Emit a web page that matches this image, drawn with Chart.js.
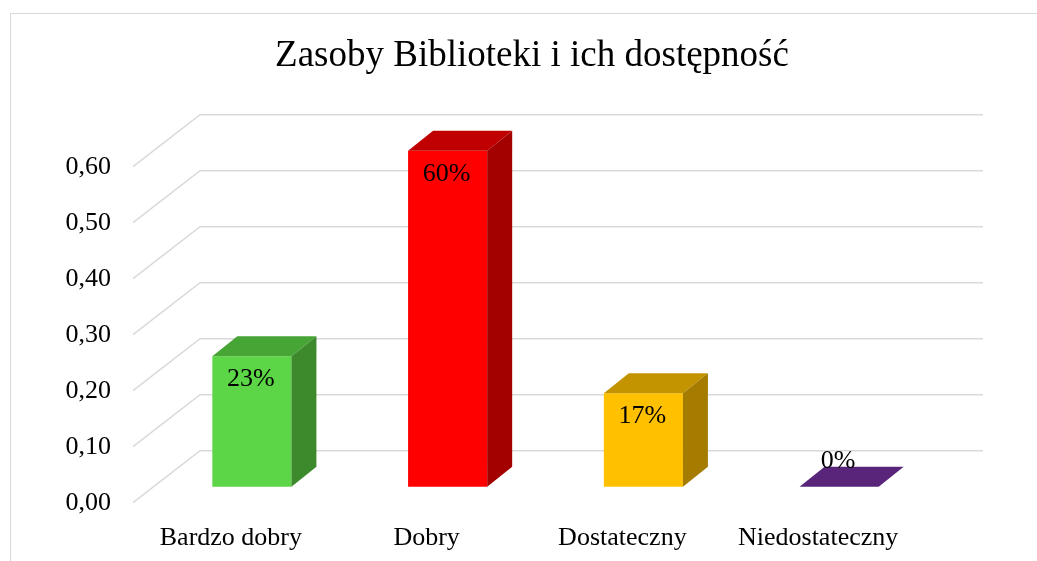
<!DOCTYPE html>
<html lang="pl">
<head>
    <meta charset="UTF-8">
    <title>Zasoby Biblioteki i ich dostępność</title>
    <script src="https://cdn.jsdelivr.net/npm/chart.js"></script>
    <style>
        html, body { margin: 0; padding: 0; background: #fff; overflow: hidden; }
        /* ramka wykresu - prawa i dolna krawędź są poza oknem */
        #wrap {
            position: absolute; left: 10px; top: 13px;
            width: 1042px; height: 547px;
            border-left: 1px solid #d9d9d9;
            border-top: 1px solid #d9d9d9;
        }
        canvas { display: block; }
    </style>
</head>
<body>
<div id="wrap"><canvas id="chart" width="1042" height="547"></canvas></div>
<script>
    // dane
    var categories = ['Bardzo dobry', 'Dobry', 'Dostateczny', 'Niedostateczny'];
    var values = [0.233, 0.60, 0.167, 0];
    var valueLabels = ['23%', '60%', '17%', '0%'];
    var yTicks = [0, 0.1, 0.2, 0.3, 0.4, 0.5, 0.6];

    // kolory ścian słupków
    var frontColors = ['#5CD646', '#FF0000', '#FFC000', '#7030A0'];
    var topColors = ['#47A535', '#C00000', '#C49300', '#58257A'];
    var sideColors = ['#3C8A2C', '#A30000', '#A67C00', '#4A1F66'];

    // efekt 3D: głębokość ścian i przesunięcie słupków
    var wall = { dx: 67, dy: -52 };
    var shift = { dx: 21, dy: -16 };
    var depth = { dx: 25, dy: -20 };

    Chart.defaults.font.family = '"Liberation Serif", "Times New Roman", serif';
    Chart.defaults.color = '#000';

    // siatka w perspektywie
    var gridPlugin = {
        id: 'grid3d',
        beforeDatasetsDraw: function (chart) {
            var ctx = chart.ctx, y = chart.scales.y, a = chart.chartArea;
            ctx.save();
            ctx.strokeStyle = '#d9d9d9';
            ctx.lineWidth = 1.5;
            y.ticks.forEach(function (t) {
                var py = y.getPixelForValue(t.value);
                ctx.beginPath();
                ctx.moveTo(a.left, py);
                ctx.lineTo(a.left + wall.dx, py + wall.dy);
                ctx.lineTo(a.right + wall.dx, py + wall.dy);
                ctx.stroke();
            });
            ctx.restore();
            // przód słupka rysuje Chart.js, tylko przesunięty w głąb
            ctx.save();
            ctx.translate(shift.dx, shift.dy);
        },
        afterDatasetsDraw: function (chart) {
            var ctx = chart.ctx;
            ctx.restore();
            var meta = chart.getDatasetMeta(0);
            ctx.save();
            meta.data.forEach(function (bar, i) {
                var x1 = bar.x - bar.width / 2 + shift.dx;
                var x2 = bar.x + bar.width / 2 + shift.dx;
                var top = bar.y + shift.dy;
                var base = bar.base + shift.dy;
                // góra
                ctx.fillStyle = topColors[i];
                ctx.beginPath();
                ctx.moveTo(x1, top);
                ctx.lineTo(x1 + depth.dx, top + depth.dy);
                ctx.lineTo(x2 + depth.dx, top + depth.dy);
                ctx.lineTo(x2, top);
                ctx.closePath();
                ctx.fill();
                // bok
                if (base - top > 0.5) {
                    ctx.fillStyle = sideColors[i];
                    ctx.beginPath();
                    ctx.moveTo(x2, top);
                    ctx.lineTo(x2 + depth.dx, top + depth.dy);
                    ctx.lineTo(x2 + depth.dx, base + depth.dy);
                    ctx.lineTo(x2, base);
                    ctx.closePath();
                    ctx.fill();
                }
                // etykieta danych
                ctx.fillStyle = '#000';
                ctx.font = '26px "Liberation Serif", "Times New Roman", serif';
                ctx.textAlign = 'center';
                ctx.textBaseline = 'middle';
                var ly = values[i] > 0 ? top + 23 : top - 26;
                ctx.fillText(valueLabels[i], (x1 + x2) / 2 - 1, ly);
            });
            ctx.restore();
        }
    };

    new Chart(document.getElementById('chart'), {
        type: 'bar',
        data: {
            labels: categories,
            datasets: [{
                data: values,
                backgroundColor: frontColors,
                borderWidth: 0,
                categoryPercentage: 1,
                barPercentage: 0.404,
                clip: false
            }]
        },
        options: {
            responsive: false,
            animation: false,
            layout: { padding: 0 },
            plugins: {
                legend: { display: false },
                tooltip: { enabled: false },
                title: {
                    display: true,
                    text: 'Zasoby Biblioteki i ich dostępność',
                    font: { size: 37, weight: 'normal' },
                    color: '#000',
                    padding: { top: 20, bottom: 88.3 }
                }
            },
            scales: {
                x: {
                    grid: { display: false, drawTicks: false },
                    border: { display: false },
                    ticks: { font: { size: 26 }, padding: 20, maxRotation: 0, autoSkip: false },
                    afterFit: function (s) { s.height = 58.3; }
                },
                y: {
                    min: 0,
                    max: 0.6,
                    grid: { display: false, drawTicks: false },
                    border: { display: false },
                    afterBuildTicks: function (s) {
                        s.ticks = yTicks.map(function (v) { return { value: v }; });
                    },
                    ticks: {
                        font: { size: 26 },
                        padding: 22,
                        callback: function (v) { return Number(v).toFixed(2).replace('.', ','); }
                    },
                    afterFit: function (s) { s.width = 122; }
                },
                // pusta oś po prawej - miejsce na tylną ścianę
                yRight: {
                    position: 'right',
                    grid: { display: false, drawTicks: false },
                    border: { display: false },
                    ticks: { display: false },
                    afterFit: function (s) { s.width = 137; }
                }
            }
        },
        plugins: [gridPlugin]
    });
</script>
</body>
</html>
